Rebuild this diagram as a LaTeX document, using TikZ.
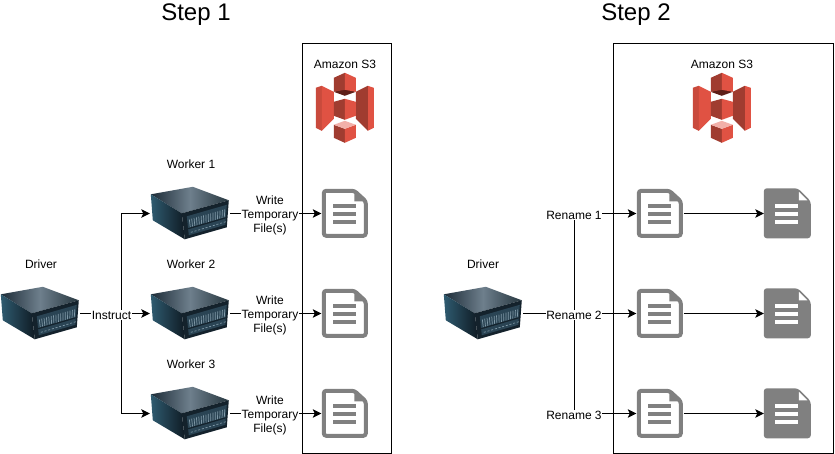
\documentclass[tikz,border=0pt]{standalone}
\usepackage{fontspec}
\setmainfont{Liberation Sans}
\usetikzlibrary{arrows.meta,calc}
\definecolor{docgray}{HTML}{808080}
\definecolor{sred}{HTML}{E05243}
\definecolor{sdark}{HTML}{A03C30}
\definecolor{sstrip}{HTML}{C94A3C}
\definecolor{slens}{HTML}{5E1F18}
\definecolor{spink}{HTML}{F2B0A9}
\definecolor{srvtopa}{HTML}{1D2C38}
\definecolor{srvtopb}{HTML}{6E7F8C}
\definecolor{srvtopc}{HTML}{26363F}
\definecolor{srvlefta}{HTML}{2F5B70}
\definecolor{srvleftb}{HTML}{0F1B24}
\definecolor{srvfront}{HTML}{14222C}
\definecolor{srvpanel}{HTML}{2A4454}
\definecolor{srvgrill}{HTML}{7F98A6}
\tikzset{
  conn/.style={line width=1pt,black,-{Stealth[length=8.5pt,width=8.5pt,inset=2pt]}},
  boxframe/.style={draw=black,line width=1pt,fill=white,inner sep=0pt},
  lab/.style={font=\fontsize{12}{14}\selectfont,text=black,inner sep=0.5pt,fill=white,align=center},
  captxt/.style={font=\fontsize{12}{14}\selectfont,text=black,inner sep=0pt,align=center},
  ttl/.style={font=\fontsize{24}{28}\selectfont,text=black,inner sep=0pt},
  srvbox/.style={inner sep=0pt,minimum width=80pt,minimum height=54pt},
  docbox/.style={inner sep=0pt,minimum width=47pt,minimum height=50pt},
  s3box/.style={inner sep=0pt,minimum width=58pt,minimum height=70pt},
  server/.pic={
    \shade[left color=srvtopa,right color=srvtopc,middle color=srvtopb]
      (1,8) -- (43,0.5) -- (79,14) -- (32,27) -- cycle;
    \shade[left color=srvlefta,right color=srvleftb]
      (1,8) -- (32,27) -- (35,53) -- (3,34) -- cycle;
    \fill[srvfront] (32,27) -- (79,14) -- (77,41) -- (35,53) -- cycle;
    \fill[srvpanel] (37,30) -- (77,18.5) -- (75.5,38.5) -- (39,49) -- cycle;
    \foreach \i in {0,...,15}{
      \draw[line width=0.7pt,srvgrill]
        ($(39.5,33)!\i/15!(75,23)$) -- ($(40.5,41)!\i/15!(74.5,31)$);
    }
    \draw[line width=1.2pt,srvfront] (38,42.5) -- (76,31.5);
    \foreach \i in {0,...,9}{
      \draw[line width=0.7pt,srvgrill]
        ($(41,46)!\i/9!(74,36)$) -- ++(2,-0.5);
    }
  },
  outdoc/.pic={
    \draw[docgray,line width=4pt,rounded corners=2.5pt,fill=white]
      (2.5,2.5) -- (33,2.5) -- (44.5,13) -- (44.5,47.5) -- (2.5,47.5) -- cycle;
    \fill[docgray] (33,2.5) -- (44.5,13) -- (33,13) -- cycle;
    \foreach \y in {17.5,25.5,33.5}{\fill[docgray] (11.5,\y-2) rectangle (34.5,\y+2);}
  },
  soliddoc/.pic={
    \fill[docgray,rounded corners=3pt] (0,0) -- (34,0) -- (47,13) -- (47,50) -- (0,50) -- cycle;
    \fill[white] (35,3.5) -- (43.5,12) -- (35,12) -- cycle;
    \foreach \y in {17.5,25.5,33.5}{\fill[white] (11.5,\y-2) rectangle (34.5,\y+2);}
  },
  s3icon/.pic={
    \fill[sstrip] (0,15) -- (6,13) -- (6,58) -- (0,55) -- cycle;
    \fill[sred] (6,13) -- (18,19) -- (18,46) -- (6,58) -- cycle;
    \fill[sred] (58,15) -- (52,13) -- (52,58) -- (58,55) -- cycle;
    \fill[sdark] (52,13) -- (40,19) -- (40,46) -- (52,58) -- cycle;
    \fill[slens] (18,19) -- (29,16) -- (40,19) -- (29,23) -- cycle;
    \fill[sdark] (18,5) -- (29,0) -- (29,17) -- (18,19) -- cycle;
    \fill[sred] (29,0) -- (40,5) -- (40,19) -- (29,17) -- cycle;
    \fill[sdark] (18,29) -- (29,26) -- (29,47) -- (18,43) -- cycle;
    \fill[sred] (29,26) -- (40,29) -- (40,43) -- (29,47) -- cycle;
    \fill[sdark] (18,52) -- (29,56) -- (29,70) -- (18,65) -- cycle;
    \fill[sred] (29,56) -- (40,52) -- (40,65) -- (29,70) -- cycle;
    \fill[spink] (18,52) -- (29,48) -- (40,52) -- (29,56) -- cycle;
  }
}
\begin{document}
\begin{tikzpicture}[x=1pt,y=-1pt]
\useasboundingbox (0,0) rectangle (835,454);
\node[ttl] (t1) at (196,14.5) {Step 1};
\node[ttl] (t2) at (636,14.5) {Step 2};
\node[boxframe,minimum width=89pt,minimum height=410pt] (b1) at (346.5,248.5) {};
\node[boxframe,minimum width=220pt,minimum height=410pt] (b2) at (723,248.5) {};
\node[captxt] (c1) at (345,64) {Amazon S3};
\node[captxt] (c2) at (722,64) {Amazon S3};
\node[s3box] (s1) at (345,108) {};
\node[s3box] (s2) at (722,108) {};
\pic at (s1.north west) {s3icon};
\pic at (s2.north west) {s3icon};
\node[srvbox] (drv) at (40,313.5) {};
\node[srvbox] (w1) at (190,213.5) {};
\node[srvbox] (w2) at (190,313.5) {};
\node[srvbox] (w3) at (190,413.5) {};
\node[srvbox] (drvb) at (483,313.5) {};
\foreach \n in {drv,w1,w2,w3,drvb}{\pic at (\n.north west) {server};}
\node[captxt] (cd) at (41,264.5) {Driver};
\node[captxt] (cw1) at (191,164.5) {Worker 1};
\node[captxt] (cw2) at (191,264.5) {Worker 2};
\node[captxt] (cw3) at (191,364.5) {Worker 3};
\node[captxt] (cdb) at (483,264.5) {Driver};
\foreach \n/\x/\y/\k in {a1/345/213.5/outdoc,a2/345/313.5/outdoc,a3/345/413.5/outdoc,
  e1/660/213.5/outdoc,e2/660/313.5/outdoc,e3/660/413.5/outdoc,
  f1/787.5/213.5/soliddoc,f2/787.5/313.5/soliddoc,f3/787.5/413.5/soliddoc}{
  \node[docbox] (\n) at (\x,\y) {};
  \pic at (\n.north west) {\k};
}
\coordinate (j1) at (121,313.5);
\draw[conn] (drv.east) -- (w2.west);
\draw[conn] (j1) |- (w1.west);
\draw[conn] (j1) |- (w3.west);
\node[lab] (li) at (111.5,315) {Instruct};
\foreach \i in {1,2,3}{
  \draw[conn] (w\i.east) -- (a\i.west);
}
\node[lab] (wt1) at (270,215.5) {Write\\Temporary\\File(s)};
\node[lab] (wt2) at (270,315.5) {Write\\Temporary\\File(s)};
\node[lab] (wt3) at (270,415.5) {Write\\Temporary\\File(s)};
\coordinate (j2) at (574,313.5);
\draw[conn] (drvb.east) -- (e2.west);
\draw[conn] (j2) |- (e1.west);
\draw[conn] (j2) |- (e3.west);
\node[lab] (r1) at (574,215) {Rename 1};
\node[lab] (r2) at (574,315) {Rename 2};
\node[lab] (r3) at (574,415) {Rename 3};
\foreach \i in {1,2,3}{
  \draw[conn] (e\i.east) -- (f\i.west);
}
\end{tikzpicture}
\end{document}
